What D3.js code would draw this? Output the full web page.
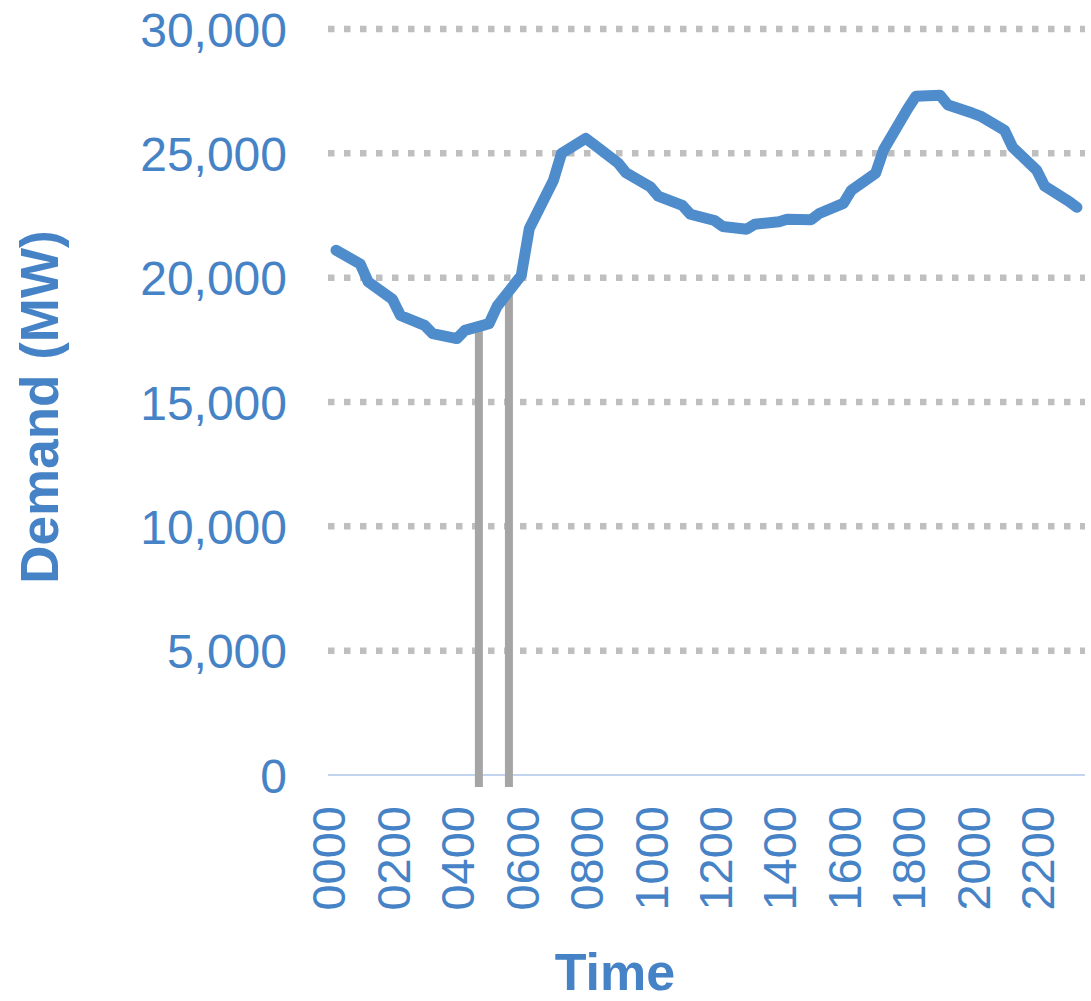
<!DOCTYPE html>
<html>
<head>
<meta charset="utf-8">
<script src="https://cdn.jsdelivr.net/npm/d3@7"></script>
<style>
  html, body { margin: 0; padding: 0; background: #ffffff; }
  svg { display: block; }
  text { font-family: "Liberation Sans", Arial, sans-serif; }
</style>
</head>
<body>
<svg id="chart" width="1091" height="1001"></svg>
<script>
// Half-day demand profile, readings logged at hh:00 and hh:15
const demandTimes = [
  "0015","0100","0115","0200","0215","0300","0315","0400","0415","0500",
  "0515","0600","0615","0700","0715","0800","0815","0900","0915","1000",
  "1015","1100","1115","1200","1215","1300","1315","1400","1415","1500",
  "1515","1600","1615","1700","1715","1800","1815","1900","1915","2000",
  "2015","2100","2115","2200","2215","2300","2315"
];
const demandMW = [
  21100,20550,19830,19130,18480,18080,17750,17550,17880,18150,
  18850,20090,21980,23920,25000,25600,25360,24620,24220,23660,
  23280,22910,22550,22300,22060,21950,22150,22250,22350,22330,
  22580,22990,23520,24200,25150,26800,27300,27340,26940,26620,
  26500,25930,25250,24320,23680,23070,22830
];

// Marker bars at two morning times
const markerTimes = ["0441","0537"];
const markerMW = [18100, 19300];

// Axis labels
const timeTickLabels = ["0000","0200","0400","0600","0800","1000","1200","1400","1600","1800","2000","2200"];
const demandTicks = [0, 5000, 10000, 15000, 20000, 25000, 30000];

const toHours = s => +s.slice(0, 2) + (+s.slice(2)) / 60;

const blueText = "#4683c6";
const blueLine = "#4e8ccb";

const svg = d3.select("#chart");

const x = d3.scaleLinear().domain([0, 23.5]).range([328, 1085]);
const y = d3.scaleLinear().domain([0, 30000]).range([775, 29]);

// Dotted horizontal gridlines
svg.append("g")
  .selectAll("line")
  .data(demandTicks.filter(d => d > 0))
  .join("line")
  .attr("x1", x(0)).attr("x2", x(23.5))
  .attr("y1", d => y(d)).attr("y2", d => y(d))
  .attr("stroke", "#bfbfbf")
  .attr("stroke-width", 6.5)
  .attr("stroke-dasharray", "6.5 9.5");

// Y axis (labels only)
const yAxis = svg.append("g")
  .attr("transform", "translate(287,0)")
  .call(d3.axisLeft(y).tickValues(demandTicks).tickFormat(d3.format(",")).tickSize(0).tickPadding(0));
yAxis.select(".domain").remove();
yAxis.selectAll("text")
  .attr("fill", blueText)
  .attr("font-size", 48)
  .attr("font-family", "'Liberation Sans', Arial, sans-serif")
  .attr("dy", "0.36em");

// Baseline of the value axis
svg.append("line")
  .attr("x1", x(0)).attr("x2", x(23.5))
  .attr("y1", y(0)).attr("y2", y(0))
  .attr("stroke", "#c3d5ee")
  .attr("stroke-width", 2);

// X axis with rotated time labels
const xAxis = svg.append("g")
  .attr("transform", "translate(0,806)")
  .call(d3.axisBottom(x)
    .tickValues(timeTickLabels.map(toHours))
    .tickFormat((d, i) => timeTickLabels[i])
    .tickSize(0).tickPadding(0));
xAxis.select(".domain").remove();
xAxis.selectAll("text")
  .attr("fill", blueText)
  .attr("font-size", 47)
  .attr("font-family", "'Liberation Sans', Arial, sans-serif")
  .attr("text-anchor", "end")
  .attr("transform", "rotate(-90)")
  .attr("x", 0)
  .attr("y", 0)
  .attr("dy", "0.36em");

// Grey marker bars
const barW = 8;
svg.append("g")
  .selectAll("rect")
  .data(markerTimes.map((t, i) => ({ t: toHours(t), v: markerMW[i] })))
  .join("rect")
  .attr("x", d => x(d.t) - barW / 2)
  .attr("width", barW)
  .attr("y", d => y(d.v))
  .attr("height", d => y(0) - y(d.v) + 12)
  .attr("fill", "#a5a5a5");

// Demand line
const pts = demandTimes.map((t, i) => [toHours(t), demandMW[i]]);
svg.append("path")
  .datum(pts)
  .attr("fill", "none")
  .attr("stroke", blueLine)
  .attr("stroke-width", 11)
  .attr("stroke-linejoin", "round")
  .attr("stroke-linecap", "round")
  .attr("d", d3.line().x(d => x(d[0])).y(d => y(d[1])));

// Axis titles
svg.append("text")
  .attr("transform", "translate(58,407) rotate(-90)")
  .attr("text-anchor", "middle")
  .attr("font-size", 53)
  .attr("font-weight", "bold")
  .attr("fill", blueText)
  .text("Demand (MW)");

svg.append("text")
  .attr("x", 615)
  .attr("y", 990)
  .attr("text-anchor", "middle")
  .attr("font-size", 52)
  .attr("font-weight", "bold")
  .attr("fill", blueText)
  .text("Time");
</script>
</body>
</html>
